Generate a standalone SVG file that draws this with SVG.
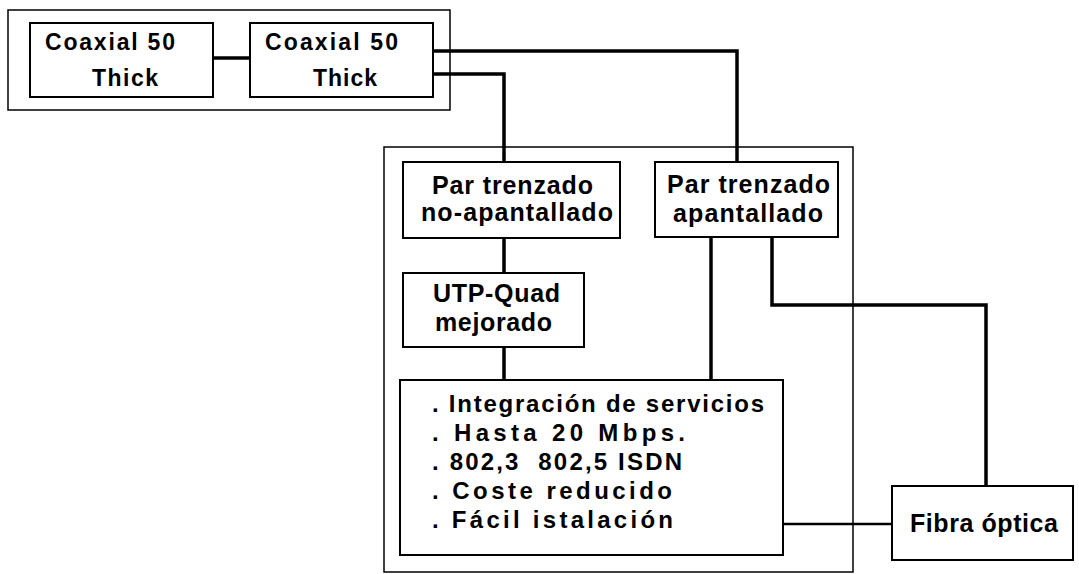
<svg xmlns="http://www.w3.org/2000/svg" width="1079" height="574" viewBox="0 0 1079 574">
<style>
.bg{fill:#ffffff}
.frame{fill:none;stroke:#000;stroke-width:1.5}
.box{fill:#fff;stroke:#000;stroke-width:2}
.conn{fill:none;stroke:#000;stroke-width:3.5;stroke-linejoin:miter;stroke-linecap:butt}
.thin{fill:none;stroke:#000;stroke-width:2.5}
text{font-family:"Liberation Sans",Arial,sans-serif;font-weight:bold;fill:#000}
.t22{font-size:23px}
.t24{font-size:25px}
.t23{font-size:24px}
</style>
<rect class="bg" x="0" y="0" width="1079" height="574"/>
<g id="frame-coaxial">
<rect class="frame" x="8" y="10" width="442" height="100"/>
</g>
<g id="frame-par">
<rect class="frame" x="384" y="147" width="469" height="425"/>
</g>
<g id="connectors">
<line class="conn" x1="213" y1="58" x2="250" y2="58"/>
<polyline class="conn" points="433,51 737,51 737,162"/>
<polyline class="conn" points="433,74 504,74 504,162"/>
<line class="conn" x1="504" y1="238" x2="504" y2="273"/>
<line class="conn" x1="504" y1="347" x2="504" y2="380"/>
<line class="conn" x1="711" y1="237" x2="711" y2="380"/>
<polyline class="conn" points="772,237 772,305 986,305 986,486"/>
<line class="thin" x1="783" y1="524" x2="892" y2="524"/>
</g>
<g id="coax1">
<rect class="box" x="30" y="23" width="183" height="74"/>
<text class="t22" x="45" y="50" textLength="130" lengthAdjust="spacing">Coaxial 50</text>
<text class="t22" x="92" y="86" textLength="66" lengthAdjust="spacing">Thick</text>
</g>
<g id="coax2">
<rect class="box" x="250" y="23" width="183" height="74"/>
<text class="t22" x="265" y="50" textLength="133" lengthAdjust="spacing">Coaxial 50</text>
<text class="t22" x="313" y="86" textLength="64" lengthAdjust="spacing">Thick</text>
</g>
<g id="utp">
<rect class="box" x="403" y="162" width="217" height="76"/>
<text class="t24" x="432" y="194" textLength="161" lengthAdjust="spacing">Par trenzado</text>
<text class="t24" x="421" y="221" textLength="192" lengthAdjust="spacing">no-apantallado</text>
</g>
<g id="stp">
<rect class="box" x="655" y="162" width="183" height="75"/>
<text class="t24" x="667" y="193" textLength="163" lengthAdjust="spacing">Par trenzado</text>
<text class="t24" x="673" y="222" textLength="150" lengthAdjust="spacing">apantallado</text>
</g>
<g id="utp-quad">
<rect class="box" x="403" y="273" width="181" height="74"/>
<text class="t24" x="433" y="302" textLength="127" lengthAdjust="spacing">UTP-Quad</text>
<text class="t24" x="435" y="331" textLength="117" lengthAdjust="spacing">mejorado</text>
</g>
<g id="features">
<rect class="box" x="400" y="380" width="383" height="175"/>
<text class="t23" x="432" y="412" textLength="332" lengthAdjust="spacing">. Integración de servicios</text>
<text class="t23" x="432" y="441" textLength="253" lengthAdjust="spacing">. Hasta 20 Mbps.</text>
<text class="t23" x="432" y="470" textLength="250" lengthAdjust="spacing" xml:space="preserve">. 802,3  802,5 ISDN</text>
<text class="t23" x="432" y="499" textLength="240" lengthAdjust="spacing">. Coste reducido</text>
<text class="t23" x="432" y="528" textLength="241" lengthAdjust="spacing">. Fácil istalación</text>
</g>
<g id="fibra">
<rect class="box" x="892" y="486" width="181" height="74"/>
<text class="t24" x="910" y="532" textLength="148" lengthAdjust="spacing">Fibra óptica</text>
</g>
</svg>
